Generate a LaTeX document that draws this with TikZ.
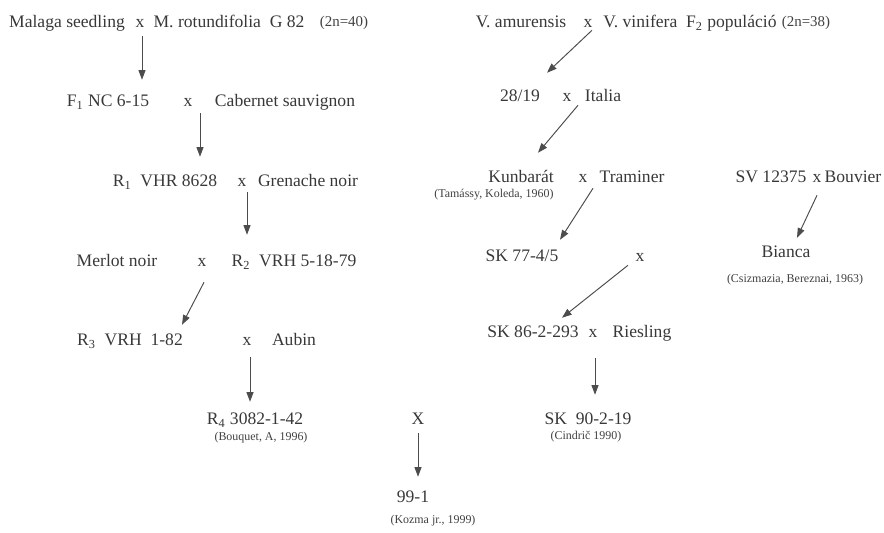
\documentclass[tikz,border=0pt]{standalone}
\usepackage{fontspec}
\setmainfont{Liberation Serif}
\usetikzlibrary{arrows.meta,calc}

\begin{document}
\begin{tikzpicture}[x=0.02cm,y=-0.02cm,
  plant/.style={font=\fontsize{10}{12}\selectfont, text=black!78, inner sep=0pt, text height=7pt, text depth=2pt},
  xmark/.style={plant},
  cite/.style={font=\fontsize{6.8}{8}\selectfont, text=black!75, inner sep=0pt},
  chrom/.style={font=\fontsize{8.5}{10}\selectfont, text=black!75, inner sep=0pt},
  arr/.style={draw=black!70, line width=0.55pt, -{Triangle[width=4pt,length=5.5pt]}}]
  \useasboundingbox (0,0) rectangle (884,532);
  % left line of crosses
  \node[plant] (mal) at (67,23) {Malaga seedling};
  \node[xmark] (x1) at (140,23) {x};
  \node[plant] (rot) at (229,23) {M. rotundifolia\ \ G 82};
  \node[chrom] (n40) at (344,23) {(2n=40)};
  \node[plant] (f1) at (108,102) {F\textsubscript{1} NC 6-15};
  \node[xmark] (x2) at (188,102) {x};
  \node[plant] (cab) at (285,102) {Cabernet sauvignon};
  \node[plant] (r1) at (165,182) {R\textsubscript{1}\ \ VHR 8628};
  \node[xmark] (x3) at (242,182) {x};
  \node[plant] (gre) at (308,182) {Grenache noir};
  \node[plant] (mer) at (117,262) {Merlot noir};
  \node[xmark] (x4) at (202,262) {x};
  \node[plant] (r2) at (294,262) {R\textsubscript{2}\ \ VRH 5-18-79};
  \node[plant] (r3) at (130,341) {R\textsubscript{3}\ \ VRH\ \ 1-82};
  \node[xmark] (x5) at (247,341) {x};
  \node[plant] (aub) at (294,341) {Aubin};
  \node[plant] (r4) at (255,420) {R\textsubscript{4} 3082-1-42};
  \node[cite] (bou) at (261,438) {(Bouquet, A, 1996)};
  % middle
  \node[plant] (xx) at (418,420) {X};
  \node[plant] (n991) at (413,498) {99-1};
  \node[cite] (koz) at (433,521) {(Kozma jr., 1999)};
  % right line of crosses
  \node[plant] (amu) at (521,23) {V. amurensis};
  \node[xmark] (x6) at (588,23) {x};
  \node[plant] (vin) at (690,23) {V. vinifera\ \ F\textsubscript{2} populáció};
  \node[chrom] (n38) at (806,23) {(2n=38)};
  \node[plant] (n2819) at (520,97) {28/19};
  \node[xmark] (x7) at (567,97) {x};
  \node[plant] (ita) at (603,97) {Italia};
  \node[plant] (kun) at (521,178) {Kunbarát};
  \node[cite] (tam) at (494,195) {(Tamássy, Koleda, 1960)};
  \node[xmark] (x8) at (583,178) {x};
  \node[plant] (tra) at (632,178) {Traminer};
  \node[plant] (sk77) at (522,257) {SK 77-4/5};
  \node[xmark] (x10) at (640,257) {x};
  \node[plant] (sk86) at (533,333) {SK 86-2-293};
  \node[xmark] (x11) at (593,333) {x};
  \node[plant] (rie) at (642,333) {Riesling};
  \node[plant] (sk90) at (588,420) {SK\ \ 90-2-19};
  \node[cite] (cin) at (586,437) {(Cindrič 1990)};
  % Bianca
  \node[plant] (sv) at (771,178) {SV 12375};
  \node[xmark] (x9) at (817,178) {x};
  \node[plant] (bouv) at (853,178) {Bouvier};
  \node[plant] (bia) at (786,253) {Bianca};
  \node[cite] (csi) at (795,280) {(Csizmazia, Bereznai, 1963)};
  % arrows
  \draw[arr] ($(x1.south)+(2,5)$) -- ($(f1.north)+(34,-14)$);
  \draw[arr] ($(x2.south)+(12,3)$) -- ($(r1.north)+(35,-17)$);
  \draw[arr] ($(x3.south)+(5,2)$) -- ($(r2.north)+(-47,-19)$);
  \draw[arr] ($(x4.south)+(2,12)$) -- ($(r3.north)+(52,-8)$);
  \draw[arr] ($(x5.south)+(3,8)$) -- ($(r4.north)+(-5,-10)$);
  \draw[arr] ($(xx.south)+(0,5)$) -- ($(n991.north)+(5,-13)$);
  \draw[arr] ($(x6.south)+(4,-1)$) -- ($(n2819.north)+(27,-16)$);
  \draw[arr] ($(x7.south)+(11,0)$) -- ($(kun.north)+(17,-17)$);
  \draw[arr] ($(x8.south)+(10,2)$) -- ($(sk77.north)+(38,-9)$);
  \draw[arr] ($(x9.south)+(0,9)$) -- ($(bia.north)+(11,-7)$);
  \draw[arr] ($(x10.south)+(-12,0)$) -- ($(sk86.north)+(29,-7)$);
  \draw[arr] ($(x11.south)+(2,17)$) -- ($(sk90.north)+(7,-17)$);
\end{tikzpicture}
\end{document}
